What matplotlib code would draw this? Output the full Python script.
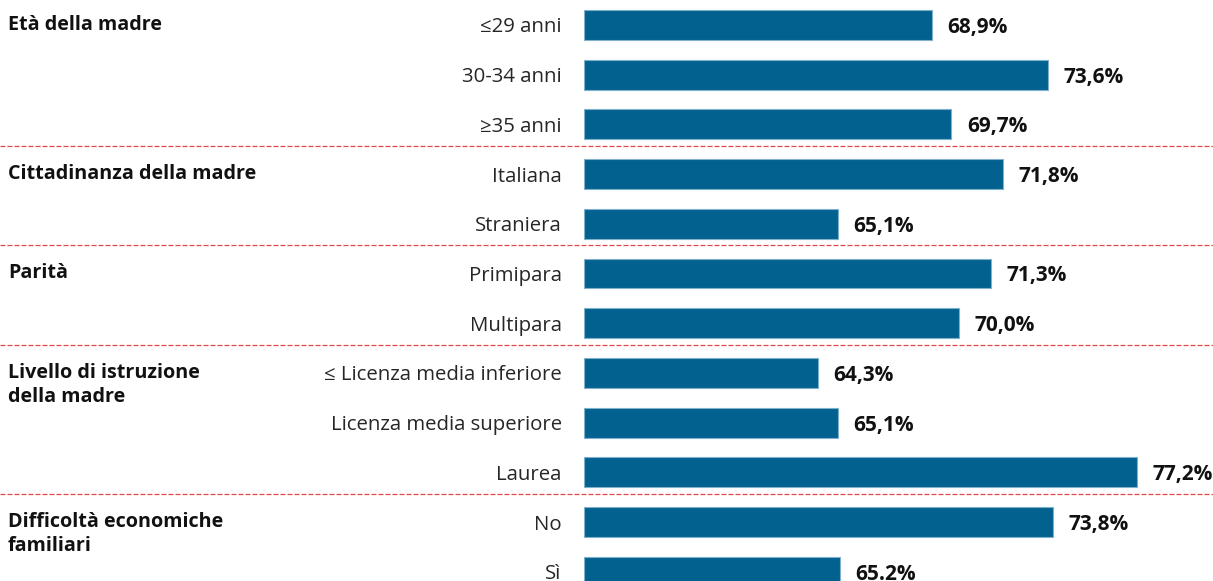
import matplotlib
matplotlib.use("Agg")
import matplotlib.pyplot as plt
import matplotlib.transforms as mtransforms
import numpy as np

# Data
categories = ["≤29 anni", "30-34 anni", "≥35 anni",
              "Italiana", "Straniera",
              "Primipara", "Multipara",
              "≤ Licenza media inferiore", "Licenza media superiore", "Laurea",
              "No", "Sì"]
values = [68.9, 73.6, 69.7, 71.8, 65.1, 71.3, 70.0, 64.3, 65.1, 77.2, 73.8, 65.2]
value_labels = ["68,9%", "73,6%", "69,7%", "71,8%", "65,1%", "71,3%", "70,0%",
                "64,3%", "65,1%", "77,2%", "73,8%", "65.2%"]
groups = ["Età della madre", "Cittadinanza della madre", "Parità",
          "Livello di istruzione\ndella madre", "Difficoltà economiche\nfamiliari"]
group_sizes = [3, 2, 2, 3, 2]

plt.rcParams['font.family'] = ['Open Sans', 'DejaVu Sans']

fig = plt.figure(figsize=(12.13, 5.81), dpi=100)
ax = fig.add_axes([584 / 1213, 0, 1 - 584 / 1213, 1])

y = np.arange(len(values))
x0 = 54.84
ax.barh(y, np.array(values) - x0, left=x0, height=0.6,
        color="#02618f", edgecolor="#7fb0cc", linewidth=0.8)

for yi, v, lab in zip(y, values, value_labels):
    ax.text(v + 0.62, yi + 0.05, lab, va="center", ha="left",
            fontsize=15, fontweight="bold", color="#111111")

ax.set_xlim(x0, x0 + 629 / 24.73)
ax.set_ylim((581 - 25) / 49.7, -25 / 49.7)

ax.set_yticks(y)
ax.set_yticklabels(categories, fontsize=14.7, color="#262626")
ax.tick_params(axis="y", length=0, pad=16)
ax.set_xticks([])
for s in ax.spines.values():
    s.set_visible(False)

# group labels and separators
trans = mtransforms.blended_transform_factory(fig.transFigure, ax.transData)
start = 0
for g, n in zip(groups, group_sizes):
    for k, line in enumerate(g.split("\n")):
        ax.text(8 / 1213, start + 0.49 * k, line, transform=trans,
                ha="left", va="center", fontsize=14.2, fontweight="bold",
                color="#111111")
    start += n
    if start < len(values):
        ax.plot([0, 1], [start - 0.57, start - 0.57], transform=trans,
                color="#e04848", linestyle=(0, (4, 1.6)), linewidth=0.9,
                clip_on=False)

fig.savefig("out.png", dpi=100)
